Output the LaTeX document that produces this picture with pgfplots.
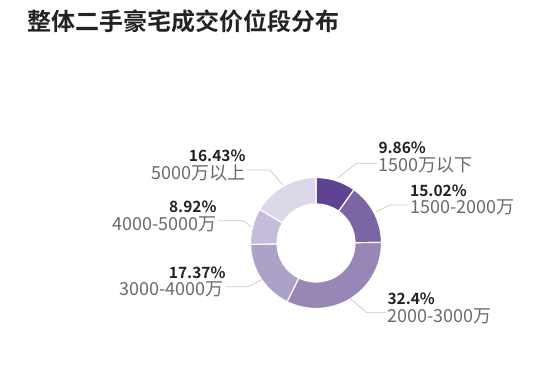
\documentclass[border=0pt]{standalone}
\usepackage{fontspec}
\setmainfont{Noto Sans CJK SC}[BoldFont={Noto Sans CJK SC Bold}]
\usepackage{pgfplots}
\usepackage{pgfplotstable}
\pgfplotsset{compat=1.18}

\definecolor{c0}{HTML}{5E4391}
\definecolor{c1}{HTML}{7B66A5}
\definecolor{c2}{HTML}{9886B6}
\definecolor{c3}{HTML}{ACA1C7}
\definecolor{c4}{HTML}{C4BCDA}
\definecolor{c5}{HTML}{DDD8E9}
\definecolor{pcttext}{HTML}{222222}
\definecolor{cattext}{HTML}{6A6A6A}
\definecolor{leader}{HTML}{C8C8C8}

\pgfplotstableread{
idx pct
0 9.86
1 15.02
2 32.4
3 17.37
4 8.92
5 16.43
}\piedata

\newcommand{\pctfont}{\fontsize{15.5}{15.5}\selectfont\bfseries\color{pcttext}}
\newcommand{\catfont}{\fontsize{18}{18}\selectfont\color{cattext}}

\begin{document}
\begin{tikzpicture}
\begin{axis}[
  x=1pt, y=1pt,
  xmin=0, xmax=558, ymin=0, ymax=388,
  hide axis, clip=false,
  scale only axis,
]
% donut slices from the table
\def\cx{316}\def\cy{145}\def\ro{65.5}\def\ri{39}
\gdef\cum{0}
\pgfplotsforeachungrouped \i in {0,...,5}{%
  \pgfplotstablegetelem{\i}{pct}\of\piedata
  \pgfmathsetmacro{\sa}{90-3.6*\cum}%
  \pgfmathsetmacro{\ea}{90-3.6*(\cum+\pgfplotsretval)}%
  \pgfmathsetmacro{\newcum}{\cum+\pgfplotsretval}%
  \xdef\cum{\newcum}%
  \pgfmathsetmacro{\oxs}{\cx+\ro*cos(\sa)}%
  \pgfmathsetmacro{\oys}{\cy+\ro*sin(\sa)}%
  \pgfmathsetmacro{\ixe}{\cx+\ri*cos(\ea)}%
  \pgfmathsetmacro{\iye}{\cy+\ri*sin(\ea)}%
  \edef\cmd{\noexpand\filldraw[fill=c\i, draw=white, line width=1.2pt, line join=round]
    (axis cs:\oxs,\oys) arc[start angle=\sa, end angle=\ea, radius=\ro pt]
    -- (axis cs:\ixe,\iye) arc[start angle=\ea, end angle=\sa, radius=\ri pt] -- cycle;}%
  \cmd
}
% leader lines
\addplot[leader, line width=0.7pt] coordinates {(337.3,209.7) (356.7,224.7) (376.7,224.7)};
\addplot[leader, line width=0.7pt] coordinates {(376,176.3) (390,183) (408.3,183)};
\addplot[leader, line width=0.7pt] coordinates {(350,89.7) (366.7,75.3) (386,75.3)};
\addplot[leader, line width=0.7pt] coordinates {(262.3,108.7) (248.3,101.3) (226,101.3)};
\addplot[leader, line width=0.7pt] coordinates {(251,161.3) (243.3,167.3) (218.3,167.3)};
\addplot[leader, line width=0.7pt] coordinates {(282.7,203) (270,218) (247.3,218)};
% labels
\node[anchor=base west, inner sep=0] at (axis cs:378.3,234) {\pctfont 9.86\%};
\node[anchor=base west, inner sep=0] at (axis cs:378.3,216) {\catfont 1500万以下};
\node[anchor=base west, inner sep=0] at (axis cs:410,191.3) {\pctfont 15.02\%};
\node[anchor=base west, inner sep=0] at (axis cs:410,174) {\catfont 1500-2000万};
\node[anchor=base west, inner sep=0] at (axis cs:387.3,83.7) {\pctfont 32.4\%};
\node[anchor=base west, inner sep=0] at (axis cs:387.3,65.7) {\catfont 2000-3000万};
\node[anchor=base east, inner sep=0] at (axis cs:225.7,109.7) {\pctfont 17.37\%};
\node[anchor=base east, inner sep=0] at (axis cs:224,92) {\catfont 3000-4000万};
\node[anchor=base east, inner sep=0] at (axis cs:216.7,175.3) {\pctfont 8.92\%};
\node[anchor=base east, inner sep=0] at (axis cs:216.7,157.3) {\catfont 4000-5000万};
\node[anchor=base east, inner sep=0] at (axis cs:245.7,226.3) {\pctfont 16.43\%};
\node[anchor=base east, inner sep=0] at (axis cs:245.7,208) {\catfont 5000万以上};
% title
\node[anchor=base west, inner sep=0] at (axis cs:27,357.5)
  {\fontsize{24}{24}\selectfont\bfseries\color{pcttext}整体二手豪宅成交价位段分布};
\end{axis}
\useasboundingbox (0,0) rectangle (558pt,388pt);
\end{tikzpicture}
\end{document}
